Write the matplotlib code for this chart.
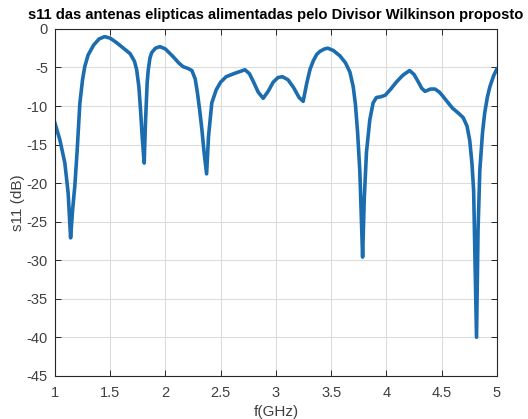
import matplotlib
matplotlib.use("Agg")
import matplotlib.pyplot as plt

freq_ghz = [1.00, 1.045, 1.09, 1.12, 1.142, 1.16, 1.18, 1.20, 1.226, 1.25, 1.27, 1.30, 1.35, 1.40,
            1.45, 1.50, 1.56, 1.62, 1.68, 1.72, 1.74, 1.76, 1.775, 1.79, 1.808, 1.82, 1.835, 1.845,
            1.86, 1.875, 1.91, 1.95, 2.00, 2.07, 2.12, 2.16, 2.20, 2.24, 2.27, 2.29, 2.31, 2.33,
            2.35, 2.373, 2.39, 2.42, 2.46, 2.50, 2.55, 2.62, 2.68, 2.72, 2.76, 2.795, 2.84, 2.885,
            2.93, 2.976, 3.02, 3.06, 3.11, 3.16, 3.21, 3.247, 3.28, 3.31, 3.34, 3.37, 3.40, 3.44,
            3.47, 3.52, 3.58, 3.63, 3.67, 3.70, 3.72, 3.74, 3.76, 3.785, 3.80, 3.82, 3.85, 3.88,
            3.91, 3.95, 3.99, 4.04, 4.09, 4.15, 4.21, 4.25, 4.29, 4.32, 4.35, 4.40, 4.44, 4.48,
            4.51, 4.56, 4.60, 4.65, 4.695, 4.73, 4.755, 4.775, 4.79, 4.816, 4.83, 4.846, 4.87,
            4.89, 4.915, 4.937, 4.97, 5.00]
s11_db = [-12.2, -14.4, -17.4, -21.3, -27.1, -23.5, -20.4, -16.1, -9.6, -6.6, -4.9, -3.4, -2.1, -1.3,
          -1.0, -1.2, -1.8, -2.5, -3.2, -4.2, -5.3, -7.5, -10.5, -14.0, -17.4, -12.0, -7.0, -5.3,
          -3.8, -3.1, -2.5, -2.3, -2.6, -3.6, -4.4, -4.9, -5.1, -5.4, -6.5, -8.3, -10.5, -13.0,
          -16.0, -18.8, -14.0, -9.6, -7.9, -6.9, -6.2, -5.8, -5.5, -5.3, -5.8, -6.8, -8.2, -9.0,
          -8.1, -6.9, -6.3, -6.2, -6.6, -7.6, -8.9, -9.4, -7.0, -5.2, -4.1, -3.3, -2.9, -2.6,
          -2.5, -2.8, -3.5, -4.4, -5.6, -7.5, -9.8, -13.5, -18.5, -29.6, -22.0, -16.0, -11.8, -9.6,
          -8.9, -8.8, -8.6, -7.8, -6.9, -6.0, -5.4, -5.9, -6.9, -7.7, -8.1, -7.8, -7.8, -8.2,
          -8.7, -9.6, -10.3, -10.9, -11.5, -12.6, -14.5, -17.5, -21.0, -40.0, -26.0, -18.3, -13.5,
          -10.9, -8.8, -7.5, -6.1, -5.2]

x_ticks = [1, 1.5, 2, 2.5, 3, 3.5, 4, 4.5, 5]
x_tick_labels = ["1", "1.5", "2", "2.5", "3", "3.5", "4", "4.5", "5"]
y_ticks = [-45, -40, -35, -30, -25, -20, -15, -10, -5, 0]
y_tick_labels = ["-45", "-40", "-35", "-30", "-25", "-20", "-15", "-10", "-5", "0"]

title_text = "s11 das antenas elipticas alimentadas pelo Divisor Wilkinson proposto"
x_label = "f(GHz)"
y_label = "s11 (dB)"

plt.rcParams['font.family'] = ['Liberation Sans', 'DejaVu Sans']

fig = plt.figure(figsize=(5.28, 4.19), dpi=100)
ax = fig.add_axes([0.104, 0.103, 0.837, 0.828])

ax.plot(freq_ghz, s11_db, color="#1b6db0", linewidth=2.6, solid_joinstyle="round")

ax.set_xlim(1, 5)
ax.set_ylim(-45, 0)
ax.set_xticks(x_ticks)
ax.set_xticklabels(x_tick_labels)
ax.set_yticks(y_ticks)
ax.set_yticklabels(y_tick_labels)

ax.grid(True, color="#dcdcdc", linewidth=0.8)
ax.set_axisbelow(True)
ax.tick_params(direction="in", top=True, right=True, length=4, width=0.7,
               colors="#262626", labelsize=10.5, labelcolor="#404040")
ax.tick_params(axis="x", pad=7)
ax.tick_params(axis="y", pad=5)
for sp in ax.spines.values():
    sp.set_color("#262626")
    sp.set_linewidth(0.8)

ax.set_title(title_text, fontsize=10.6, fontweight="bold", color="black", pad=7)
ax.set_xlabel(x_label, fontsize=11, color="#404040", labelpad=4)
ax.set_ylabel(y_label, fontsize=11, color="#404040", labelpad=1)

fig.savefig("out.png", dpi=100, facecolor="white")
